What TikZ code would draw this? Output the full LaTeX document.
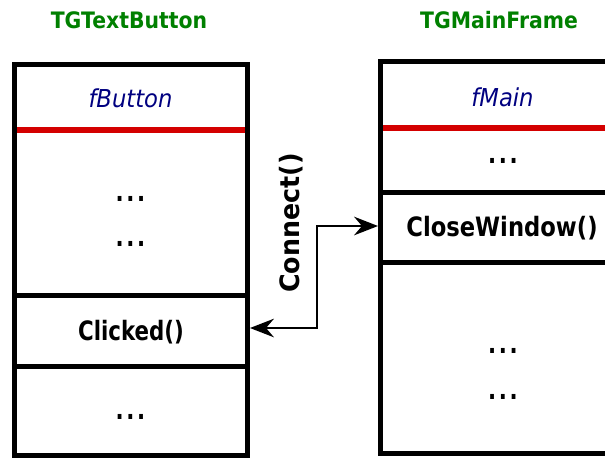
\documentclass[tikz,border=0pt]{standalone}
\usepackage{fontspec}
\setmainfont{DejaVu Sans}
\newfontfamily\titlefont[FakeStretch=0.9]{DejaVu Sans}
\newfontfamily\memberfont[FakeStretch=0.92]{DejaVu Sans}
\newfontfamily\slotfont[FakeStretch=0.8]{DejaVu Sans}
\newfontfamily\widefont[FakeStretch=0.85]{DejaVu Sans}
\newfontfamily\connectfont[FakeStretch=0.95]{DejaVu Sans}
\usetikzlibrary{arrows.meta}

\definecolor{titlegreen}{RGB}{0,128,0}
\definecolor{membernavy}{RGB}{0,0,128}
\definecolor{barred}{RGB}{212,0,0}

\newcommand{\threedots}{.\kern2pt.\kern2pt.}

\tikzset{
  classbox/.style={draw=black,line width=3.75pt},
  divider/.style={draw=black,line width=3.75pt},
  redbar/.style={draw=barred,line width=4.5pt},
  classtitle/.style={font=\titlefont\fontsize{17}{20}\selectfont\bfseries,text=titlegreen},
  member/.style={font=\memberfont\fontsize{18.5}{22}\selectfont\itshape,text=membernavy},
  slot/.style={font=\slotfont\fontsize{20}{24}\selectfont\bfseries},
  dotrow/.style={font=\slotfont\fontsize{20}{24}\selectfont\bfseries},
  signal/.style={line width=1.1pt,{Stealth[length=18pt,width=14pt,inset=6pt]}-{Stealth[length=18pt,width=14pt,inset=6pt]}}
}

\begin{document}
\begin{tikzpicture}[x=0.75pt,y=0.75pt,yscale=-1,xscale=1]
\useasboundingbox (0,0) rectangle (605,458);

%Shape: Rectangle [TGTextButton]
\draw [classbox] (14.5,64) rectangle (247.5,455);
\draw [redbar] (17,130) -- (245,130);
\draw [divider] (14.5,295.5) -- (247.5,295.5);
\draw [divider] (14.5,366) -- (247.5,366);

%Shape: Rectangle [TGMainFrame]
\draw [classbox] (380.5,61.5) rectangle (615,453);
\draw [redbar] (383,128) -- (610,128);
\draw [divider] (380.5,192) -- (615,192);
\draw [divider] (380.5,262) -- (615,262);

% Text Node
\node [classtitle] (buttontitle) at (129,20) {TGTextButton};
% Text Node
\node [classtitle] (frametitle) at (499,20) {TGMainFrame};

% Text Node
\node [member] (fbutton) at (130.5,98) {fButton};
\node [dotrow] (buttondotsa) at (130.5,199) {\threedots};
\node [dotrow] (buttondotsb) at (130.5,244) {\threedots};
\node [slot] (clicked) at (131,332) {Clicked()};
\node [dotrow] (buttondotsc) at (130.5,417) {\threedots};

% Text Node
\node [member] (fmain) at (502.5,97) {fMain};
\node [dotrow] (framedotsa) at (503,161) {\threedots};
\node [slot,font=\widefont\fontsize{20}{24}\selectfont\bfseries] (closewindow) at (502,228) {CloseWindow()};
\node [dotrow] (framedotsb) at (503,351) {\threedots};
\node [dotrow] (framedotsc) at (503,397) {\threedots};

% Text Node
\node [font=\connectfont\fontsize{20}{24}\selectfont\bfseries,rotate=90] (connect) at (291,223) {Connect()};

%Connector
\coordinate (clickport) at (250,328);
\coordinate (closeport) at (378,226);
\draw [signal] (clickport) -- ++(67,0) |- (closeport);

\end{tikzpicture}
\end{document}
